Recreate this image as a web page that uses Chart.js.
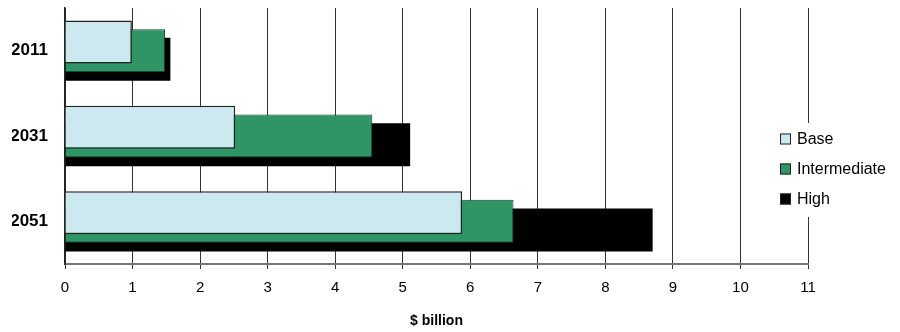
<!DOCTYPE html>
<html>
<head>
<meta charset="utf-8">
<script src="https://cdn.jsdelivr.net/npm/chart.js@4"></script>
<style>
  html, body { margin: 0; padding: 0; background: #fff; }
  #wrap { width: 900px; height: 332px; }
</style>
</head>
<body>
<div id="wrap"><canvas id="grafico"></canvas></div>
<script>
// dados
const anos = ["2011", "2031", "2051"];
const base = [0.99, 2.52, 5.88];
const intermedio = [1.48, 4.55, 6.64];
const alto = [1.56, 5.11, 8.70];
const ticksX = [0, 1, 2, 3, 4, 5, 6, 7, 8, 9, 10, 11];

const fonte = "'Liberation Sans', Arial, sans-serif";

// legenda desenhada dentro da área do gráfico, com fundo branco
const legendaDireita = {
  id: "legendaDireita",
  afterDraw(chart) {
    const c = chart.ctx;
    const x0 = 780;
    const ys = [139, 169, 199];
    c.save();
    c.fillStyle = "#fff";
    c.fillRect(774, 123, 126, 94);
    c.font = "16px " + fonte;
    c.textBaseline = "middle";
    chart.data.datasets.forEach((ds, i) => {
      c.fillStyle = ds.backgroundColor;
      c.fillRect(x0, ys[i] - 5.5, 11, 11);
      c.strokeStyle = "#222";
      c.lineWidth = 1;
      c.strokeRect(x0 + 0.5, ys[i] - 5, 10, 10);
      c.fillStyle = "#000";
      c.fillText(ds.label, 797, ys[i] + 1);
    });
    c.restore();
  },
};

new Chart(document.getElementById("grafico"), {
  type: "bar",
  data: {
    labels: anos,
    datasets: [
      { label: "Base", data: base, backgroundColor: "#cde9f0", borderColor: "#222", borderWidth: 1.5 },
      { label: "Intermediate", data: intermedio, backgroundColor: "#2f9566", borderColor: "#1c3a2b", borderWidth: 1 },
      { label: "High", data: alto, backgroundColor: "#000000", borderWidth: 0 },
    ],
  },
  options: {
    indexAxis: "y",
    responsive: true,
    maintainAspectRatio: false,
    animation: false,
    categoryPercentage: 0.305,
    barPercentage: 4.96,
    layout: { padding: { top: 8, right: 92, left: 12, bottom: 0 } },
    scales: {
      x: {
        min: 0,
        max: 11,
        afterBuildTicks: (axis) => { axis.ticks = ticksX.map((v) => ({ value: v })); },
        afterFit: (axis) => {
          axis.height = 68;
          axis.paddingLeft = 0;
          axis.paddingRight = 0;
        },
        grid: { color: "#333", lineWidth: 1, tickLength: 5, tickColor: "#333" },
        border: { display: true, color: "#777", width: 2 },
        ticks: { color: "#000", font: { family: fonte, size: 15 }, padding: 10, maxRotation: 0 },
        title: {
          display: true,
          text: "$ billion",
          color: "#000",
          font: { family: fonte, size: 14, weight: "bold" },
          padding: { top: 17, bottom: 2 },
        },
      },
      y: {
        afterFit: (axis) => {
          axis.width = 53;
          axis.paddingTop = 0;
          axis.paddingBottom = 0;
        },
        grid: { display: false, drawTicks: false },
        border: { display: true, color: "#222", width: 1.5 },
        ticks: { color: "#000", font: { family: fonte, size: 17, weight: "bold" }, padding: 17 },
      },
    },
    plugins: {
      legend: { display: false },
      tooltip: { enabled: false },
    },
  },
  plugins: [legendaDireita],
});
</script>
</body>
</html>
